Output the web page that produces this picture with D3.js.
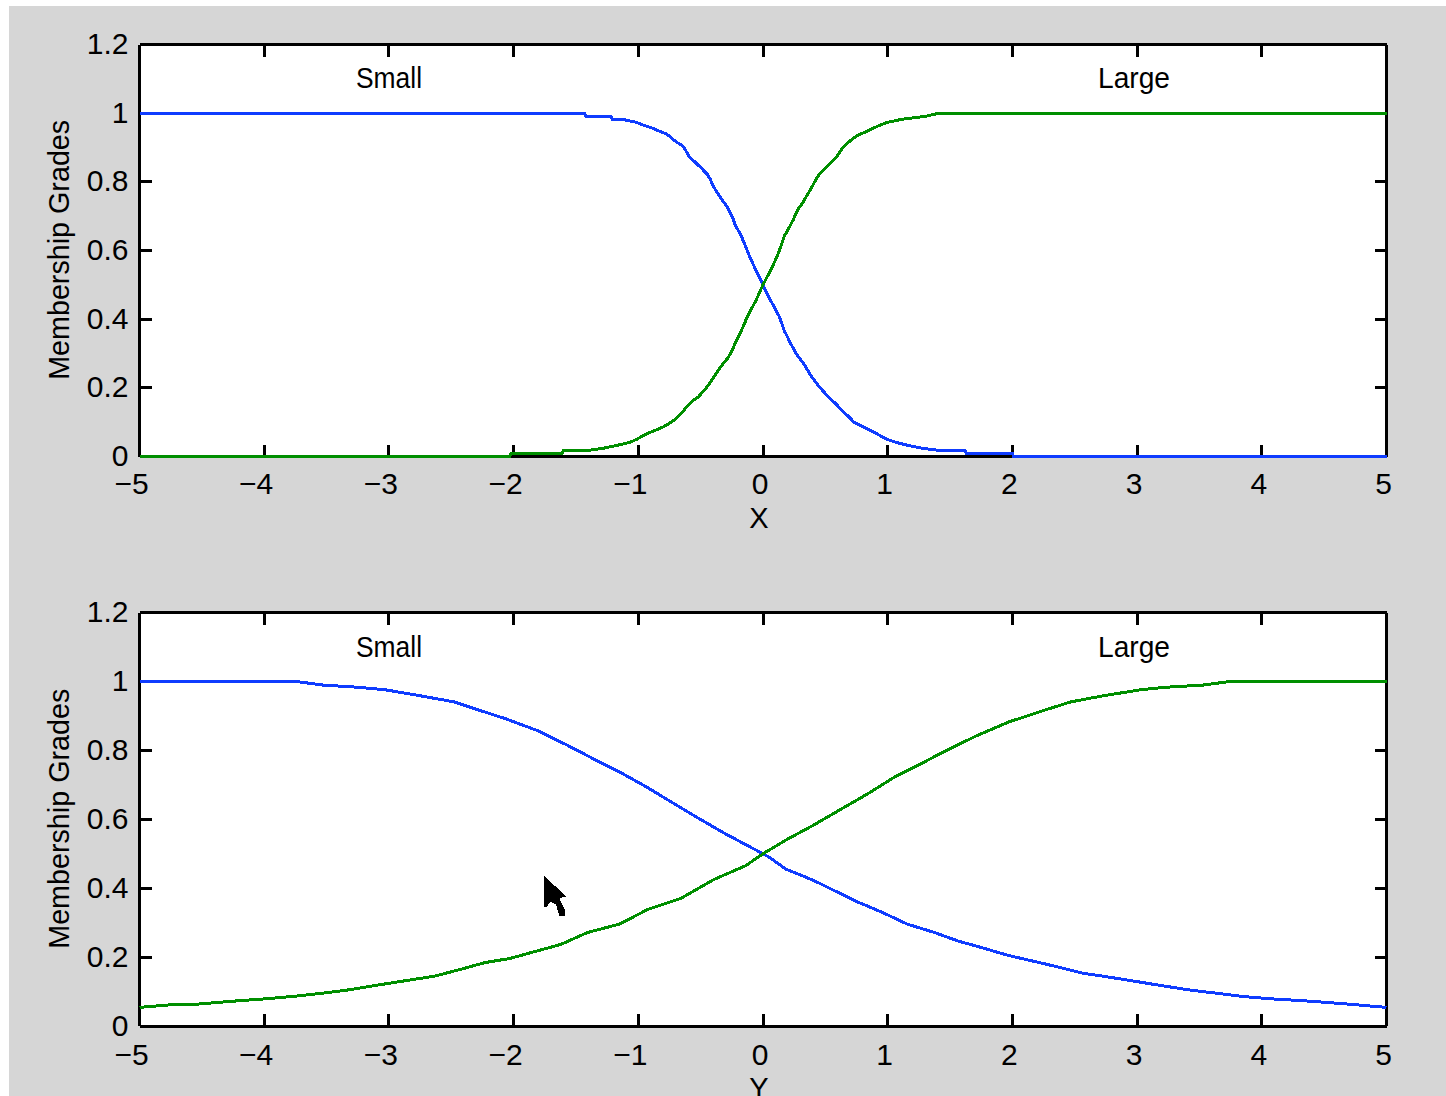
<!DOCTYPE html>
<html>
<head>
<meta charset="utf-8">
<script src="https://cdn.jsdelivr.net/npm/d3@7"></script>
<style>
html,body{margin:0;padding:0;background:#fff;}
svg{display:block;}
text{font-family:"Liberation Sans",Arial,sans-serif;fill:#000;}
</style>
</head>
<body>
<svg id="c" width="1446" height="1096"></svg>
<script>
const xTicks = [-5,-4,-3,-2,-1,0,1,2,3,4,5];
const yTicks = [0,0.2,0.4,0.6,0.8,1,1.2];
const smallLabel = "Small";
const largeLabel = "Large";
const yTitle = "Membership Grades";
const xTitles = ["X","Y"];

const topSmallX = [-5,-1.43,-1.42,-1.22,-1.21,-1.128,-1.013,-0.96,-0.885,-0.826,-0.78,-0.751,-0.724,-0.69,-0.652,-0.631,-0.61,-0.591,-0.543,-0.495,-0.447,-0.425,-0.406,-0.382,-0.334,-0.286,-0.262,-0.241,-0.222,-0.174,-0.15,-0.102,-0.078,-0.034,0,0.01,0.035,0.059,0.083,0.107,0.131,0.152,0.171,0.195,0.219,0.243,0.267,0.315,0.337,0.38,0.427,0.476,0.524,0.588,0.636,0.684,0.73,0.762,0.81,0.858,0.904,0.947,0.995,1.067,1.157,1.259,1.406,1.62,1.63,2.0,2.01,5];
const topSmallY = [1,1,0.991,0.991,0.982,0.982,0.973,0.965,0.956,0.947,0.94,0.933,0.924,0.915,0.907,0.898,0.885,0.872,0.857,0.84,0.822,0.809,0.793,0.777,0.751,0.726,0.71,0.693,0.674,0.642,0.621,0.578,0.559,0.525,0.5,0.49,0.473,0.456,0.44,0.424,0.407,0.386,0.366,0.349,0.331,0.315,0.299,0.276,0.264,0.238,0.214,0.193,0.174,0.152,0.133,0.117,0.1,0.094,0.085,0.076,0.068,0.059,0.05,0.041,0.033,0.025,0.018,0.018,0.009,0.009,0,0];
const topLargeX = [-5,-2.03,-2.02,-1.61,-1.6,-1.393,-1.267,-1.163,-1.07,-1.013,-0.97,-0.922,-0.864,-0.807,-0.762,-0.703,-0.655,-0.615,-0.567,-0.518,-0.47,-0.425,-0.382,-0.334,-0.286,-0.262,-0.24,-0.222,-0.198,-0.174,-0.15,-0.126,-0.102,-0.078,-0.054,-0.034,0,0.035,0.059,0.083,0.107,0.131,0.152,0.171,0.195,0.219,0.243,0.267,0.291,0.315,0.337,0.357,0.38,0.404,0.428,0.452,0.476,0.5,0.524,0.564,0.588,0.612,0.636,0.66,0.684,0.716,0.748,0.786,0.834,0.882,0.938,0.995,1.11,1.306,1.413,5];
const topLargeY = [0,0,0.009,0.009,0.018,0.018,0.025,0.033,0.041,0.05,0.059,0.068,0.076,0.085,0.094,0.108,0.126,0.143,0.161,0.174,0.193,0.214,0.238,0.264,0.285,0.299,0.315,0.331,0.349,0.366,0.386,0.407,0.424,0.44,0.456,0.473,0.5,0.525,0.54,0.559,0.578,0.6,0.621,0.642,0.657,0.673,0.69,0.71,0.726,0.737,0.751,0.763,0.777,0.793,0.809,0.822,0.831,0.84,0.848,0.864,0.872,0.885,0.898,0.907,0.915,0.924,0.933,0.94,0.947,0.956,0.965,0.973,0.982,0.991,1,1];

const botSmallX = [-5,-3.74,-3.54,-3.24,-3.03,-2.74,-2.48,-2.27,-2.065,-1.805,-1.574,-1.347,-1.164,-0.954,-0.72,-0.494,-0.297,-0.068,0,0.05,0.185,0.305,0.45,0.6,0.74,0.95,1.155,1.37,1.57,1.74,1.965,2.17,2.37,2.565,2.72,2.98,3.13,3.43,3.64,3.84,4.07,4.39,4.71,5];
const botSmallY = [1,1,0.99,0.983,0.976,0.958,0.941,0.916,0.892,0.857,0.816,0.773,0.74,0.698,0.647,0.598,0.557,0.513,0.5,0.49,0.455,0.438,0.415,0.388,0.363,0.331,0.296,0.272,0.246,0.229,0.205,0.188,0.171,0.153,0.145,0.13,0.121,0.104,0.095,0.086,0.079,0.072,0.063,0.054];
const botLargeX = [-5,-4.7,-4.55,-4.25,-3.95,-3.74,-3.54,-3.34,-3.05,-2.63,-2.42,-2.23,-2.03,-1.86,-1.62,-1.41,-1.15,-0.92,-0.66,-0.39,-0.14,0,0.185,0.39,0.6,0.835,1.056,1.25,1.46,1.71,1.975,2.26,2.47,2.72,3.03,3.22,3.54,3.74,5];
const botLargeY = [0.054,0.063,0.063,0.072,0.08,0.087,0.095,0.104,0.121,0.145,0.165,0.184,0.196,0.213,0.237,0.271,0.296,0.339,0.37,0.426,0.465,0.5,0.54,0.58,0.624,0.673,0.723,0.758,0.798,0.842,0.883,0.917,0.941,0.958,0.976,0.983,0.99,1,1];

const BLUE = "#0f3cff", GREEN = "#008f00", GRAY = "#d6d6d6";
const svg = d3.select("#c");
svg.append("rect").attr("x",9).attr("y",6).attr("width",1437).attr("height",1090).attr("fill",GRAY);

const panels = [
  {top:44.5, bottom:456.5, small:[topSmallX,topSmallY], large:[topLargeX,topLargeY], title:xTitles[0], titleY:528, tickY:494},
  {top:612.6, bottom:1026, small:[botSmallX,botSmallY], large:[botLargeX,botLargeY], title:xTitles[1], titleY:1098, tickY:1065}
];

const x = d3.scaleLinear().domain([-5,5]).range([139.5,1386.5]);

panels.forEach(p=>{
  const y = d3.scaleLinear().domain([0,1.2]).range([p.bottom,p.top]);
  const g = svg.append("g");
  g.append("rect").attr("x",x(-5)).attr("y",p.top).attr("width",x(5)-x(-5)).attr("height",p.bottom-p.top).attr("fill","#fff");

  const style = s => {
    s.selectAll("path,line").attr("stroke","#000").attr("stroke-width",3).attr("shape-rendering","crispEdges");
  };
  const bottomAxis = d3.axisBottom(x).offset(0).tickValues(xTicks).tickSizeInner(-12).tickSizeOuter(0).tickFormat(d=>d3.format("d")(d));
  const topAxis = d3.axisTop(x).offset(0).tickValues(xTicks).tickSizeInner(-12).tickSizeOuter(0).tickFormat("");
  const leftAxis = d3.axisLeft(y).offset(0).tickValues(yTicks).tickSizeInner(-12).tickSizeOuter(0).tickFormat(d=>String(d));
  const rightAxis = d3.axisRight(y).offset(0).tickValues(yTicks).tickSizeInner(-12).tickSizeOuter(0).tickFormat("");

  const gb = g.append("g").attr("transform",`translate(0,${p.bottom})`).call(bottomAxis).call(style);
  g.append("g").attr("transform",`translate(0,${p.top})`).call(topAxis).call(style);
  const gl = g.append("g").attr("transform",`translate(${x(-5)},0)`).call(leftAxis).call(style);
  g.append("g").attr("transform",`translate(${x(5)},0)`).call(rightAxis).call(style);

  gb.selectAll("text")
    .attr("font-size",30)
    .attr("y",null).attr("dy",null)
    .attr("text-anchor","middle")
    .attr("transform",d=>`translate(${d<0?-8:-3},${p.tickY-p.bottom})`);
  gl.selectAll("text")
    .attr("font-size",30).attr("x",-11).attr("dy",-1)
    .attr("dominant-baseline","central").attr("text-anchor","end");
  svg.selectAll("g").attr("font-family",null).attr("font-size",null);

  const line = d3.line().x(d=>x(d[0])).y(d=>y(d[1]));
  const pts = a => a[0].map((v,i)=>[v,a[1][i]]);
  g.append("path").attr("d",line(pts(p.small))).attr("fill","none").attr("stroke",BLUE).attr("stroke-width",3).attr("shape-rendering","crispEdges");
  g.append("path").attr("d",line(pts(p.large))).attr("fill","none").attr("stroke",GREEN).attr("stroke-width",3).attr("shape-rendering","crispEdges");

  g.append("text").text(smallLabel).attr("x",356).attr("y",y(1)-25).attr("font-size",29)
    .attr("textLength",66).attr("lengthAdjust","spacingAndGlyphs");
  g.append("text").text(largeLabel).attr("x",1098).attr("y",y(1)-25).attr("font-size",29)
    .attr("textLength",72).attr("lengthAdjust","spacingAndGlyphs");

  g.append("text").text(yTitle)
    .attr("transform",`translate(69,${(y(1)+p.bottom)/2 - 35}) rotate(-90)`)
    .attr("text-anchor","middle").attr("font-size",29)
    .attr("textLength",260).attr("lengthAdjust","spacingAndGlyphs");
  g.append("text").text(p.title).attr("x",759).attr("y",p.titleY)
    .attr("text-anchor","middle").attr("font-size",29);
});

svg.append("path")
  .attr("d","M544 876 L566.7 896.7 L559.3 898 L565 910 L565 916 L559.3 916 L556 904.3 L550.7 901.7 L546.7 906.7 L544 906.7 Z")
  .attr("fill","#000").attr("shape-rendering","crispEdges");
</script>
</body>
</html>
